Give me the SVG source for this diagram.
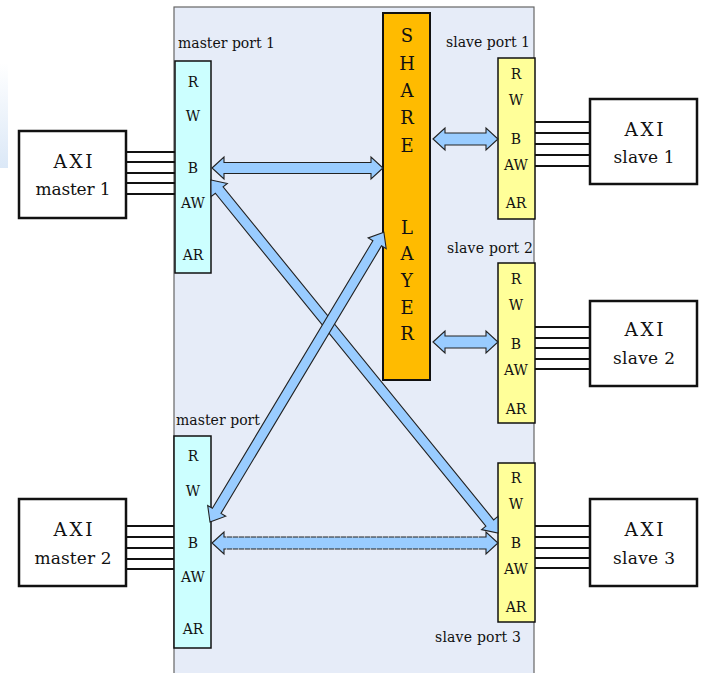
<svg xmlns="http://www.w3.org/2000/svg" width="704" height="673" viewBox="0 0 704 673" font-family="'DejaVu Serif', serif">
<defs>
<linearGradient id="lg" x1="0" y1="0" x2="0" y2="1">
<stop offset="0" stop-color="#ffffff"/>
<stop offset="1" stop-color="#dbe8f7"/>
</linearGradient>
</defs>
<style>
text{font-family:"DejaVu Serif","Liberation Serif",serif;fill:#111;text-anchor:middle}
.lbl{font-size:14px;text-anchor:start}
.sig{font-size:14px}
.big{font-size:17px}
.ax{font-size:18.5px}
.sh{font-size:18px}
.axi{fill:#fff;stroke:#111;stroke-width:2.5}
.mp{fill:#ccffff;stroke:#111;stroke-width:1.5}
.sp{fill:#ffff99;stroke:#111;stroke-width:1.5}
.wire{stroke:#111;stroke-width:2}
.arr{fill:#99ccff;stroke:#222;stroke-width:1.1;stroke-linejoin:miter}
</style>
<rect width="704" height="673" fill="#fff"/>
<rect x="0" y="63" width="8" height="105" fill="url(#lg)"/>
<g id="panel">
<rect x="174" y="7" width="360" height="680" fill="#e6ecf8" stroke="#666" stroke-width="1.2"/>
</g>
<g id="share-layer">
<rect x="383" y="13" width="47" height="367" fill="#ffbb00" stroke="#111" stroke-width="2"/>
<text class="sh" x="407" y="42">S</text>
<text class="sh" x="407" y="70">H</text>
<text class="sh" x="407" y="97">A</text>
<text class="sh" x="407" y="124">R</text>
<text class="sh" x="407" y="152">E</text>
<text class="sh" x="407" y="234">L</text>
<text class="sh" x="407" y="260">A</text>
<text class="sh" x="407" y="287">Y</text>
<text class="sh" x="407" y="314">E</text>
<text class="sh" x="407" y="340">R</text>
</g>
<g id="master-port-1">
<text class="lbl" x="178" y="48" textLength="97" lengthAdjust="spacing">master port 1</text>
<rect class="mp" x="175" y="61" width="36" height="212"/>
<text class="sig" x="193" y="87">R</text>
<text class="sig" x="193" y="121">W</text>
<text class="sig" x="193" y="173">B</text>
<text class="sig" x="193" y="208">AW</text>
<text class="sig" x="193" y="260">AR</text>
</g>
<g id="master-port-2">
<text class="lbl" x="176" y="425" textLength="84" lengthAdjust="spacing">master port</text>
<rect class="mp" x="174" y="436" width="37" height="212"/>
<text class="sig" x="193" y="461">R</text>
<text class="sig" x="193" y="496">W</text>
<text class="sig" x="193" y="548">B</text>
<text class="sig" x="193" y="582">AW</text>
<text class="sig" x="193" y="634">AR</text>
</g>
<g id="slave-port-1">
<text class="lbl" x="446" y="47" textLength="84" lengthAdjust="spacing">slave port 1</text>
<rect class="sp" x="498" y="58" width="37" height="161"/>
<text class="sig" x="516" y="79">R</text>
<text class="sig" x="516" y="105">W</text>
<text class="sig" x="516" y="144">B</text>
<text class="sig" x="516" y="170">AW</text>
<text class="sig" x="516" y="208">AR</text>
</g>
<g id="slave-port-2">
<text class="lbl" x="447" y="253" textLength="86" lengthAdjust="spacing">slave port 2</text>
<rect class="sp" x="498" y="263" width="37" height="160"/>
<text class="sig" x="516" y="284">R</text>
<text class="sig" x="516" y="310">W</text>
<text class="sig" x="516" y="349">B</text>
<text class="sig" x="516" y="375">AW</text>
<text class="sig" x="516" y="414">AR</text>
</g>
<g id="slave-port-3">
<rect class="sp" x="498" y="463" width="37" height="159"/>
<text class="sig" x="516" y="483">R</text>
<text class="sig" x="516" y="509">W</text>
<text class="sig" x="516" y="548">B</text>
<text class="sig" x="516" y="574">AW</text>
<text class="sig" x="516" y="612">AR</text>
<text class="lbl" x="435" y="642" textLength="86" lengthAdjust="spacing">slave port 3</text>
</g>
<g id="axi-master-1">
<rect class="axi" x="19" y="131" width="107" height="87"/>
<text class="ax" x="73" y="168" textLength="39" lengthAdjust="spacing">AXI</text>
<text class="big" x="73" y="195" textLength="75" lengthAdjust="spacing">master 1</text>
</g>
<g id="axi-master-2">
<rect class="axi" x="19" y="499" width="107" height="87"/>
<text class="ax" x="73" y="536" textLength="39" lengthAdjust="spacing">AXI</text>
<text class="big" x="73" y="564" textLength="77" lengthAdjust="spacing">master 2</text>
</g>
<g id="axi-slave-1">
<rect class="axi" x="590" y="99" width="107" height="85"/>
<text class="ax" x="644" y="136" textLength="39" lengthAdjust="spacing">AXI</text>
<text class="big" x="644" y="163" textLength="61" lengthAdjust="spacing">slave 1</text>
</g>
<g id="axi-slave-2">
<rect class="axi" x="590" y="301" width="107" height="85"/>
<text class="ax" x="644" y="336" textLength="39" lengthAdjust="spacing">AXI</text>
<text class="big" x="644" y="364" textLength="62" lengthAdjust="spacing">slave 2</text>
</g>
<g id="axi-slave-3">
<rect class="axi" x="590" y="499" width="107" height="87"/>
<text class="ax" x="644" y="536" textLength="39" lengthAdjust="spacing">AXI</text>
<text class="big" x="644" y="564" textLength="62" lengthAdjust="spacing">slave 3</text>
</g>
<g id="connectors">
<g class="wire">
<line x1="126" y1="152" x2="175" y2="152"/><line x1="126" y1="162" x2="175" y2="162"/><line x1="126" y1="173" x2="175" y2="173"/><line x1="126" y1="183" x2="175" y2="183"/><line x1="126" y1="194" x2="175" y2="194"/>
<line x1="126" y1="526" x2="174" y2="526"/><line x1="126" y1="537" x2="174" y2="537"/><line x1="126" y1="548" x2="174" y2="548"/><line x1="126" y1="559" x2="174" y2="559"/><line x1="126" y1="569" x2="174" y2="569"/>
<line x1="535" y1="122" x2="590" y2="122"/><line x1="535" y1="133" x2="590" y2="133"/><line x1="535" y1="144" x2="590" y2="144"/><line x1="535" y1="155" x2="590" y2="155"/><line x1="535" y1="166" x2="590" y2="166"/>
<line x1="535" y1="327" x2="590" y2="327"/><line x1="535" y1="338" x2="590" y2="338"/><line x1="535" y1="348" x2="590" y2="348"/><line x1="535" y1="359" x2="590" y2="359"/><line x1="535" y1="369" x2="590" y2="369"/>
<line x1="535" y1="526" x2="590" y2="526"/><line x1="535" y1="537" x2="590" y2="537"/><line x1="535" y1="548" x2="590" y2="548"/><line x1="535" y1="558" x2="590" y2="558"/><line x1="535" y1="568" x2="590" y2="568"/>
</g>
<path class="arr" transform="translate(211,180) rotate(50.9)" d="M0,0 L13,-10.5 L13,-5 L442,-5 L442,-10.5 L455,0 L442,10.5 L442,5 L13,5 L13,10.5 Z"/>
<path class="arr" transform="translate(210,522) rotate(-59.04)" d="M0,0 L13,-10.5 L13,-5 L325,-5 L325,-10.5 L338,0 L325,10.5 L325,5 L13,5 L13,10.5 Z"/>
<path class="arr" transform="translate(212,168)" d="M0,0 L12,-11 L12,-5.5 L159,-5.5 L159,-11 L171,0 L159,11 L159,5.5 L12,5.5 L12,11 Z"/>
<path class="arr" transform="translate(433,139)" d="M0,0 L12,-11 L12,-6 L53,-6 L53,-11 L65,0 L53,11 L53,6 L12,6 L12,11 Z"/>
<path class="arr" transform="translate(433,342)" d="M0,0 L12,-11 L12,-6 L53,-6 L53,-11 L65,0 L53,11 L53,6 L12,6 L12,11 Z"/>
<path class="arr" transform="translate(212,543)" d="M0,0 L12,-11 L12,-6 L274,-6 L274,-11 L286,0 L274,11 L274,6 L12,6 L12,11 Z"/>
<g stroke="#fff" stroke-width="1.2" stroke-dasharray="1 5">
<line x1="226" y1="537" x2="484" y2="537"/>
<line x1="226" y1="549" x2="484" y2="549"/>
</g>
</g>
</svg>
